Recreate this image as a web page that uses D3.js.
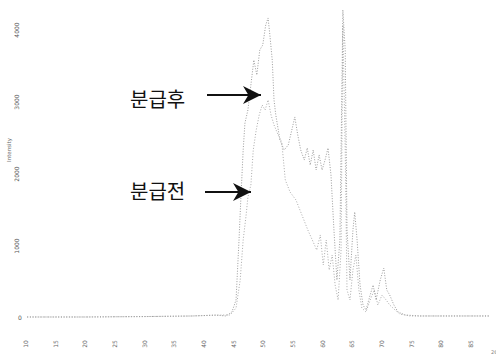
<!DOCTYPE html>
<html>
<head>
<meta charset="utf-8">
<script src="https://cdn.jsdelivr.net/npm/d3@7/dist/d3.min.js"></script>
<style>
  html, body { margin: 0; padding: 0; background: #fff; }
  svg { display: block; }
</style>
</head>
<body>
<svg id="chart" width="496" height="356"></svg>
<script>
// 2θ positions (deg) and intensities (counts) for the two samples
const afterTheta = [10.2, 20, 30, 38, 42, 43.7, 44.7, 45.4, 45.9, 46.2, 46.6, 46.9, 47.4, 47.9, 48.4, 48.9, 49.4, 49.9, 50.4, 50.8, 51.1, 51.5, 51.8, 52.1, 52.8, 53.5, 54.2, 54.8, 55.3, 55.8, 56.3, 56.9, 57.4, 57.9, 58.4, 58.9, 59.4, 59.9, 60.4, 60.9, 61.4, 61.9, 62.4, 62.9, 63.3, 63.4, 63.8, 64.1, 64.6, 65.1, 65.4, 65.8, 66.3, 66.8, 67.3, 68.0, 68.5, 69.0, 69.7, 70.3, 70.8, 71.3, 72.0, 72.7, 73.9, 76.4, 88.2];
const afterCounts = [14, 14, 20, 28, 40, 28, 83, 250, 1083, 1639, 2333, 2708, 2889, 3236, 3583, 3375, 3722, 3792, 4069, 4167, 3931, 3583, 3028, 2819, 2472, 2333, 2403, 2611, 2792, 2542, 2333, 2194, 2361, 2125, 2333, 2056, 2264, 2056, 2194, 2361, 1986, 1222, 528, 1083, 3583, 4278, 3722, 1222, 528, 1222, 1472, 1083, 458, 181, 111, 319, 458, 250, 528, 694, 389, 319, 181, 83, 42, 28, 28];

const beforeTheta = [10.2, 20, 30, 38, 42, 44.4, 45.4, 46.1, 46.6, 47.1, 47.4, 47.9, 48.3, 48.8, 49.3, 49.8, 50.3, 50.8, 51.3, 51.8, 52.5, 53.1, 53.7, 54.5, 55.5, 56.5, 57.5, 58.4, 59.0, 59.6, 60.1, 60.6, 61.1, 61.6, 62.1, 62.6, 63.1, 63.4, 63.8, 64.1, 64.6, 65.1, 65.6, 66.1, 66.6, 67.3, 68.0, 68.7, 69.3, 70.0, 70.7, 71.3, 72.2, 73.0, 74.7, 88.2];
const beforeCounts = [14, 14, 20, 28, 40, 42, 139, 528, 1083, 1431, 1681, 1847, 2333, 2611, 2819, 2958, 2889, 3028, 2819, 2681, 2542, 2444, 1917, 1750, 1639, 1431, 1222, 1056, 944, 1153, 736, 1083, 667, 875, 458, 250, 944, 4069, 2333, 389, 250, 667, 875, 389, 139, 83, 250, 389, 181, 319, 250, 181, 111, 56, 28, 28];

const xTicks = [10, 15, 20, 25, 30, 35, 40, 45, 50, 55, 60, 65, 70, 75, 80, 85];
const yTicks = [0, 1000, 2000, 3000, 4000];

const svg = d3.select("#chart");

const x = d3.scaleLinear().domain([10, 88.2]).range([26, 490]);
const y = d3.scaleLinear().domain([0, 4000]).range([318, 30]);

const toPts = (xs, ys) => xs.map((v, i) => [v, ys[i]]);
const line = d3.line().x(d => x(d[0])).y(d => y(d[1]));

// pattern traces, drawn as fine dotted strokes
svg.append("path")
  .datum(toPts(beforeTheta, beforeCounts))
  .attr("d", line)
  .attr("fill", "none")
  .attr("stroke", "#ababab")
  .attr("stroke-width", 1)
  .attr("stroke-dasharray", "1 1.8");

svg.append("path")
  .datum(toPts(afterTheta, afterCounts))
  .attr("d", line)
  .attr("fill", "none")
  .attr("stroke", "#9c9c9c")
  .attr("stroke-width", 1)
  .attr("stroke-dasharray", "1 1.6");

// x axis labels (rotated, small)
const xAxis = svg.append("g").attr("transform", "translate(0,344)");
xAxis.selectAll("text")
  .data(xTicks)
  .join("text")
  .attr("transform", d => `translate(${x(d) + 2},0) rotate(-90)`)
  .attr("text-anchor", "middle")
  .attr("font-family", "DejaVu Sans, sans-serif")
  .attr("font-size", 6)
  .attr("fill", "#666")
  .text(d => d);

// y axis labels
const yAxis = svg.append("g");
yAxis.selectAll("text")
  .data(yTicks)
  .join("text")
  .attr("transform", d => d === 0
    ? `translate(20,${y(d) + 2})`
    : `translate(19,${y(d)}) rotate(-90)`)
  .attr("text-anchor", "middle")
  .attr("font-family", "DejaVu Sans, sans-serif")
  .attr("font-size", 6)
  .attr("fill", "#555")
  .text(d => d);

svg.append("text")
  .attr("transform", `translate(11,150) rotate(-90)`)
  .attr("text-anchor", "middle")
  .attr("font-family", "DejaVu Sans, sans-serif")
  .attr("font-size", 5.5)
  .attr("fill", "#666")
  .text("Intensity");

svg.append("text")
  .attr("x", 491).attr("y", 354)
  .attr("font-family", "DejaVu Sans, sans-serif")
  .attr("font-size", 5)
  .attr("fill", "#888")
  .text("2θ");

// annotations with arrows
const defs = svg.append("defs");
defs.append("marker")
  .attr("id", "head")
  .attr("viewBox", "0 0 10 10")
  .attr("refX", 10).attr("refY", 5)
  .attr("markerWidth", 9).attr("markerHeight", 9)
  .attr("markerUnits", "strokeWidth")
  .attr("orient", "auto")
  .append("path")
  .attr("d", "M0,0 L10,5 L0,10 L3,5 Z")
  .attr("fill", "#111");

const notes = [
  { label: "분급후", tx: 130, ty: 107, x1: 207, x2: 261, yy: 95 },
  { label: "분급전", tx: 130, ty: 199, x1: 205, x2: 251, yy: 192 }
];

notes.forEach(n => {
  svg.append("text")
    .attr("x", n.tx).attr("y", n.ty)
    .attr("font-family", "Noto Sans CJK KR, sans-serif")
    .attr("font-size", 20)
    .attr("fill", "#111")
    .text(n.label);
  svg.append("line")
    .attr("x1", n.x1).attr("x2", n.x2)
    .attr("y1", n.yy).attr("y2", n.yy)
    .attr("stroke", "#111")
    .attr("stroke-width", 2)
    .attr("marker-end", "url(#head)");
});
</script>
</body>
</html>
